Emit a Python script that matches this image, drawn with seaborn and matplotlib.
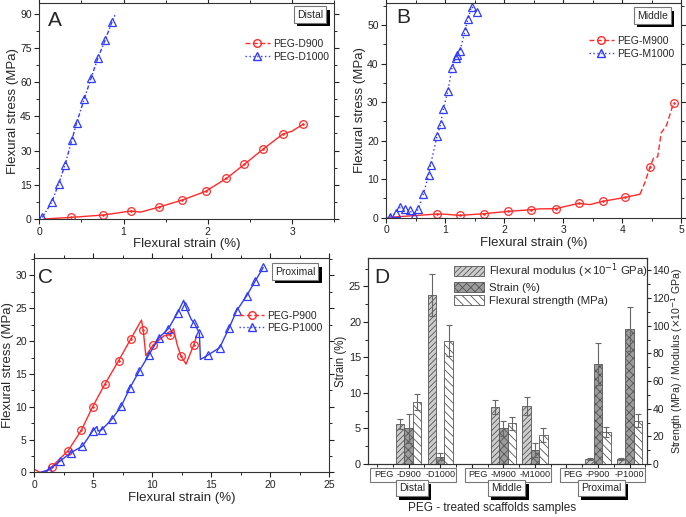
import numpy as np
import pandas as pd
import matplotlib
matplotlib.use('Agg')
import matplotlib.pyplot as plt
import matplotlib.patheffects as pe
import matplotlib.transforms as mtransforms
from matplotlib.lines import Line2D
from matplotlib.patches import Patch, Rectangle
from matplotlib.ticker import MultipleLocator, AutoMinorLocator
import seaborn as sns

# ---- panel A (distal) ----
d900_lx = [0.05, 0.375, 0.759, 1.087, 1.2, 1.423, 1.696, 1.972, 2.221, 2.431, 2.652, 2.889, 3.0, 3.134]
d900_ly = [0.0, 0.7, 1.75, 3.5, 3.0, 5.25, 8.3, 12.1, 17.8, 23.9, 30.5, 37.2, 38.5, 41.6]
d900_mx = [0.375, 0.759, 1.087, 1.423, 1.696, 1.972, 2.221, 2.431, 2.652, 2.889, 3.134]
d900_my = [0.7, 1.75, 3.5, 5.25, 8.3, 12.1, 17.8, 23.9, 30.5, 37.2, 41.6]
d1000_lx = [0.036, 0.146, 0.229, 0.304, 0.387, 0.443, 0.534, 0.613, 0.696, 0.783, 0.862, 0.897]
d1000_ly = [0.7, 7.3, 15.3, 23.6, 34.7, 42.2, 52.7, 61.6, 70.6, 78.6, 86.3, 89.3]
d1000_mx = [0.036, 0.146, 0.229, 0.304, 0.387, 0.443, 0.534, 0.613, 0.696, 0.783, 0.862]
d1000_my = [0.7, 7.3, 15.3, 23.6, 34.7, 42.2, 52.7, 61.6, 70.6, 78.6, 86.3]

# ---- panel B (middle) ----
m900_lx = [0.05, 0.86, 1.0, 1.243, 1.655, 2.062, 2.458, 2.6, 2.87, 3.26, 3.45, 3.667, 4.051, 4.3,
           4.38, 4.469, 4.53, 4.6, 4.66, 4.75, 4.87]
m900_ly = [0.1, 0.95, 0.9, 0.6, 1.04, 1.64, 2.08, 2.3, 2.34, 3.72, 3.4, 4.24, 5.28, 6.1,
           9.0, 13.1, 15.5, 15.8, 22.0, 24.0, 29.8]
m900_mx = [0.859, 1.243, 1.655, 2.062, 2.458, 2.870, 3.260, 3.667, 4.051, 4.469, 4.870]
m900_my = [0.95, 0.6, 1.04, 1.64, 2.08, 2.34, 3.72, 4.24, 5.28, 13.1, 29.8]
m1000_mx = [0.056, 0.169, 0.237, 0.316, 0.395, 0.469, 0.542, 0.627, 0.718, 0.751, 0.859, 0.921,
            0.966, 1.045, 1.113, 1.175, 1.203, 1.249, 1.333, 1.384, 1.446, 1.531]
m1000_my = [0.26, 1.3, 2.7, 2.2, 2.0, 0.4, 2.25, 6.05, 11.2, 13.8, 21.1, 24.3,
            28.1, 33.0, 38.8, 41.5, 42.2, 43.3, 48.4, 51.6, 54.8, 53.4]

# ---- panel C (proximal) ----
p900_lx = [0.0, 0.5, 1.0, 1.46, 2.86, 3.98, 4.94, 6.0, 7.14, 8.17, 9.08, 9.23, 9.45, 10.09,
           11.0, 11.51, 11.8, 12.1, 12.43, 12.86, 13.51, 13.75]
p900_ly = [0.5, 0.0, 0.2, 0.84, 3.3, 6.4, 10.0, 13.5, 17.0, 20.3, 23.2, 21.7, 17.8, 19.4,
           20.8, 21.0, 21.9, 19.5, 17.7, 16.5, 19.4, 20.8]
p900_mx = [1.46, 2.86, 3.98, 4.94, 6.0, 7.14, 8.17, 9.23, 10.09, 11.51, 12.43, 13.51]
p900_my = [0.84, 3.3, 6.4, 10.0, 13.5, 17.0, 20.3, 21.7, 19.4, 21.0, 17.7, 19.4]
p1000_lx = [0.5, 1.23, 2.17, 3.08, 4.08, 4.94, 5.31, 5.4, 5.71, 6.57, 7.37, 8.11, 8.88, 9.71,
            10.57, 11.37, 12.14, 12.66, 12.8, 13.3, 13.57, 13.99, 14.08, 14.74, 15.71, 16.51,
            17.14, 18.0, 18.74, 19.4]
p1000_ly = [0.0, 0.4, 1.7, 3.0, 4.0, 6.3, 7.0, 6.3, 6.5, 8.1, 10.1, 12.9, 15.4, 17.9,
            20.5, 21.9, 24.3, 26.2, 25.4, 23.3, 22.7, 21.2, 17.2, 17.9, 19.0, 22.0,
            24.6, 26.9, 29.2, 31.2]
p1000_mx = [1.23, 2.17, 3.08, 4.08, 4.94, 5.71, 6.57, 7.37, 8.11, 8.88, 9.71, 10.57, 11.37,
            12.14, 12.8, 13.57, 13.99, 14.74, 15.71, 16.51, 17.14, 18.0, 18.74, 19.4]
p1000_my = [0.4, 1.7, 3.0, 4.0, 6.3, 6.5, 8.1, 10.1, 12.9, 15.4, 17.9, 20.5, 21.9,
            24.3, 25.4, 22.7, 21.2, 17.9, 19.0, 22.0, 24.6, 26.9, 29.2, 31.2]

# ---- panel D (bars) ----
samples = ['D900', 'D1000', 'M900', 'M1000', 'P900', 'P1000']
groups = ['Distal', 'Middle', 'Proximal']
modulus = [28.7, 122.2, 41.0, 42.1, 3.6, 3.6]          # right axis
modulus_err = [3.6, 15.0, 5.0, 6.7, 0.6, 0.6]
strain = [5.0, 1.0, 5.0, 2.0, 14.1, 19.0]               # left axis
strain_err = [2.0, 0.5, 1.0, 1.0, 3.0, 3.1]
strength = [44.7, 89.3, 29.3, 21.0, 23.0, 31.4]        # right axis
strength_err = [6.0, 11.0, 4.6, 5.0, 3.6, 4.6]

RED = '#ff2a2a'
BLUE = '#2f3bff'

sns.set_theme(context='paper', style='ticks')
plt.rcParams['font.family'] = ['Liberation Sans', 'DejaVu Sans']
plt.rcParams['hatch.linewidth'] = 0.6
plt.rcParams['axes.linewidth'] = 0.8
plt.rcParams['xtick.major.size'] = 3.5
plt.rcParams['ytick.major.size'] = 3.5
plt.rcParams['xtick.minor.size'] = 2
plt.rcParams['ytick.minor.size'] = 2

fig = plt.figure(figsize=(6.86, 5.17), dpi=100)
axA = fig.add_axes([0.0573, 0.5764, 0.4300, 0.4172])
axB = fig.add_axes([0.5631, 0.5789, 0.4300, 0.4159])
axC = fig.add_axes([0.0500, 0.0861, 0.4300, 0.4143])
axD = fig.add_axes([0.5364, 0.1025, 0.4067, 0.3985])


def curve(ax, lx, ly, mx, my, color, ls, marker, ms):
    sns.lineplot(x=lx, y=ly, ax=ax, color=color, linestyle=ls, lw=1.0, sort=False, estimator=None)
    sns.lineplot(x=mx, y=my, ax=ax, color=color, linestyle='', marker=marker, ms=ms,
                 mfc='none', mec=color, mew=0.9, sort=False, estimator=None)
    if marker == 'o':
        sns.lineplot(x=mx, y=my, ax=ax, color=color, linestyle='', marker='.', ms=2.2,
                     mec=color, sort=False, estimator=None)


def shadow_box(ax, x, y, txt, size=7.5, transform=None):
    t = ax.text(x, y, txt, ha='center', va='center', fontsize=size,
                transform=ax.transAxes if transform is None else transform,
                bbox=dict(boxstyle='square,pad=0.3', fc='white', ec='#777777', lw=0.8),
                zorder=10, clip_on=False)
    t.get_bbox_patch().set_path_effects(
        [pe.withSimplePatchShadow(offset=(2.5, -2.5), shadow_rgbFace='black', alpha=1)])
    return t


def style_curve_axes(ax, xmax, ymax, xstep, ystep, letter, region, leg_labels, leg_anchor):
    ax.set_xlim(0, xmax)
    ax.set_ylim(0, ymax)
    ax.xaxis.set_major_locator(MultipleLocator(xstep))
    ax.yaxis.set_major_locator(MultipleLocator(ystep))
    ax.xaxis.set_minor_locator(AutoMinorLocator(2))
    ax.yaxis.set_minor_locator(AutoMinorLocator(2))
    ax.tick_params(labelsize=7.5, colors='#222222', width=0.8, pad=2)
    ax.tick_params(which='minor', width=0.7)
    ax.tick_params(axis='y', which='both', right=True, labelright=False)
    ax.tick_params(axis='x', which='both', top=True, labeltop=False)
    ax.set_xlabel('Flexural strain (%)', fontsize=9.5, labelpad=1)
    ax.set_ylabel('Flexural stress (MPa)', fontsize=9.5, labelpad=0.5)
    for s in ax.spines.values():
        s.set_color('#333333')
    ax.text(letter[1], letter[2], letter[0], transform=ax.transAxes, fontsize=15,
            ha='left', va='top')
    shadow_box(ax, region[1], region[2], region[0])
    handles = [
        Line2D([], [], color=RED, ls=(0, (3.5, 1.8)), lw=1.0, marker='o', ms=5.5, mfc='none', mec=RED),
        Line2D([], [], color=BLUE, ls=(0, (1, 1.8)), lw=1.0, marker='^', ms=6, mfc='none', mec=BLUE),
    ]
    fig.legend(handles, leg_labels, loc='upper left', bbox_to_anchor=leg_anchor, frameon=False,
               fontsize=7.5, handlelength=2.4, handletextpad=0.3, labelspacing=0.25,
               borderpad=0, borderaxespad=0)


# A
curve(axA, d900_lx, d900_ly, d900_mx, d900_my, RED, '-', 'o', 5.5)
curve(axA, d1000_lx, d1000_ly, d1000_mx, d1000_my, BLUE, (0, (3, 1.5, 1, 1.5)), '^', 6)
style_curve_axes(axA, 3.5, 94.5, 1, 15, ('A', 0.03, 0.965), ('Distal', 0.918, 0.948),
                 ['PEG-D900', 'PEG-D1000'], (0.357, 0.9246))

# B  (solid until the knee, dashed after)
m900_lx = np.array(m900_lx)
m900_ly = np.array(m900_ly)
knee = m900_lx <= 4.3
tail = m900_lx >= 4.3
sns.lineplot(x=m900_lx[knee], y=m900_ly[knee], ax=axB, color=RED, lw=1.0, sort=False, estimator=None)
curve(axB, m900_lx[tail], m900_ly[tail], m900_mx, m900_my, RED, (0, (4, 2)), 'o', 5.5)
curve(axB, [0.0] + m1000_mx, [0.0] + m1000_my, m1000_mx, m1000_my, BLUE, (0, (1, 2)), '^', 6)
style_curve_axes(axB, 5, 55.8, 1, 10, ('B', 0.033, 0.975), ('Middle', 0.902, 0.940),
                 ['PEG-M900', 'PEG-M1000'], (0.8586, 0.9304))

# C
curve(axC, p900_lx, p900_ly, p900_mx, p900_my, RED, '-', 'o', 5.5)
curve(axC, p1000_lx, p1000_ly, p1000_mx, p1000_my, BLUE, '-', '^', 6)
style_curve_axes(axC, 25, 32.6, 5, 5, ('C', 0.013, 0.955), ('Proximal', 0.884, 0.938),
                 ['PEG-P900', 'PEG-P1000'], (0.3488, 0.3994))

# D
measures = [r'Flexural modulus ($\times$10$^{-1}$ GPa)', 'Strain (%)', 'Flexural strength (MPa)']
df_bar = pd.DataFrame({
    'sample': samples * 3,
    'measure': np.repeat(measures, len(samples)),
    'value': modulus + strain + strength,
    'err': modulus_err + strain_err + strength_err,
})
order = samples[:2] + [' '] + samples[2:4] + ['  '] + samples[4:]
fills = {measures[0]: '#cdcdcd', measures[1]: '#9c9c9c', measures[2]: '#ffffff'}
hatches = {measures[0]: '//////', measures[1]: 'xxxx', measures[2]: '\\\\\\\\'}

axD2 = axD.twinx()
for m, target in zip(measures, [axD2, axD, axD2]):
    sub = df_bar[df_bar['measure'] == m]
    n0 = len(target.patches)
    sns.barplot(data=sub, x='sample', y='value', hue='measure', hue_order=measures, order=order,
                palette=fills, saturation=1, errorbar=None, legend=False, dodge=True, ax=target,
                edgecolor='#555555', linewidth=0.6)
    bars = sorted(target.patches[n0:], key=lambda p: p.get_x())
    for p, e in zip(bars, sub['err']):
        p.set_hatch(hatches[m])
        target.errorbar(p.get_x() + p.get_width() / 2, p.get_height(), yerr=e, color='#666666',
                        capsize=2.5, elinewidth=0.8, capthick=0.8, zorder=5)

axD.set_xlim(-1.29, 7.55)
axD.set_ylim(0, 29)
axD2.set_ylim(0, 149)
axD.set_xticks(range(len(order)))
axD.set_xticklabels([''] * len(order))
axD.xaxis.set_minor_locator(AutoMinorLocator(2))
axD.yaxis.set_major_locator(MultipleLocator(5))
axD.yaxis.set_minor_locator(AutoMinorLocator(2))
axD2.yaxis.set_major_locator(MultipleLocator(20))
axD2.yaxis.set_minor_locator(AutoMinorLocator(2))
for a in (axD, axD2):
    a.tick_params(labelsize=7.8, colors='#222222', width=0.8, pad=1.5)
    a.tick_params(which='minor', width=0.7)
    a.set_xlabel('')
    for s in a.spines.values():
        s.set_color('#333333')
axD2.tick_params(axis='y', labelsize=7.5, length=3, pad=1)
axD2.tick_params(axis='y', which='minor', length=1.8)
axD.set_ylabel('Strain (%)', fontsize=8.3, labelpad=1)
axD2.set_ylabel(r'Strength (MPa) / Modulus ($\times$10$^{-1}$ GPa)', fontsize=7.6)
axD2.yaxis.set_label_coords(1.08, 0.5)
axD.text(0.024, 0.95, 'D', transform=axD.transAxes, fontsize=15, ha='left', va='top')

leg_handles = [Patch(facecolor=fills[m], edgecolor='#555555', hatch=hatches[m], lw=0.6, label=m)
               for m in measures]
axD2.legend(handles=leg_handles, loc='upper left', bbox_to_anchor=(0.6618, 0.4942),
            bbox_transform=fig.transFigure, frameon=False, fontsize=8.2, handlelength=2.6,
            handleheight=0.95, handletextpad=0.5, labelspacing=0.2, borderpad=0, borderaxespad=0)

blend = mtransforms.blended_transform_factory(axD.transData, axD.transAxes)
for gi, g in enumerate(groups):
    first = order.index(samples[2 * gi])
    axD.add_patch(Rectangle((first - 1.22, -0.085), 2.72, 0.065, transform=blend, clip_on=False,
                            fc='white', ec='#777777', lw=0.8, zorder=4))
    for k in range(2):
        s = samples[2 * gi + k]
        axD.text(order.index(s), -0.052, '-' + s, transform=blend, ha='center', va='center',
                 fontsize=6.6, zorder=6, clip_on=False)
    axD.annotate('PEG', xy=(first, -0.052), xycoords=blend, xytext=(-11, 0),
                 textcoords='offset points', ha='right', va='center', fontsize=6.6, zorder=6)
    shadow_box(axD, first + 0.1, -0.118, g, size=7.5, transform=blend)

fig.text(492 / 686, 1 - 508 / 517, 'PEG - treated scaffolds samples', ha='center', va='center',
         fontsize=8.5)

fig.savefig('out.png', dpi=100)
